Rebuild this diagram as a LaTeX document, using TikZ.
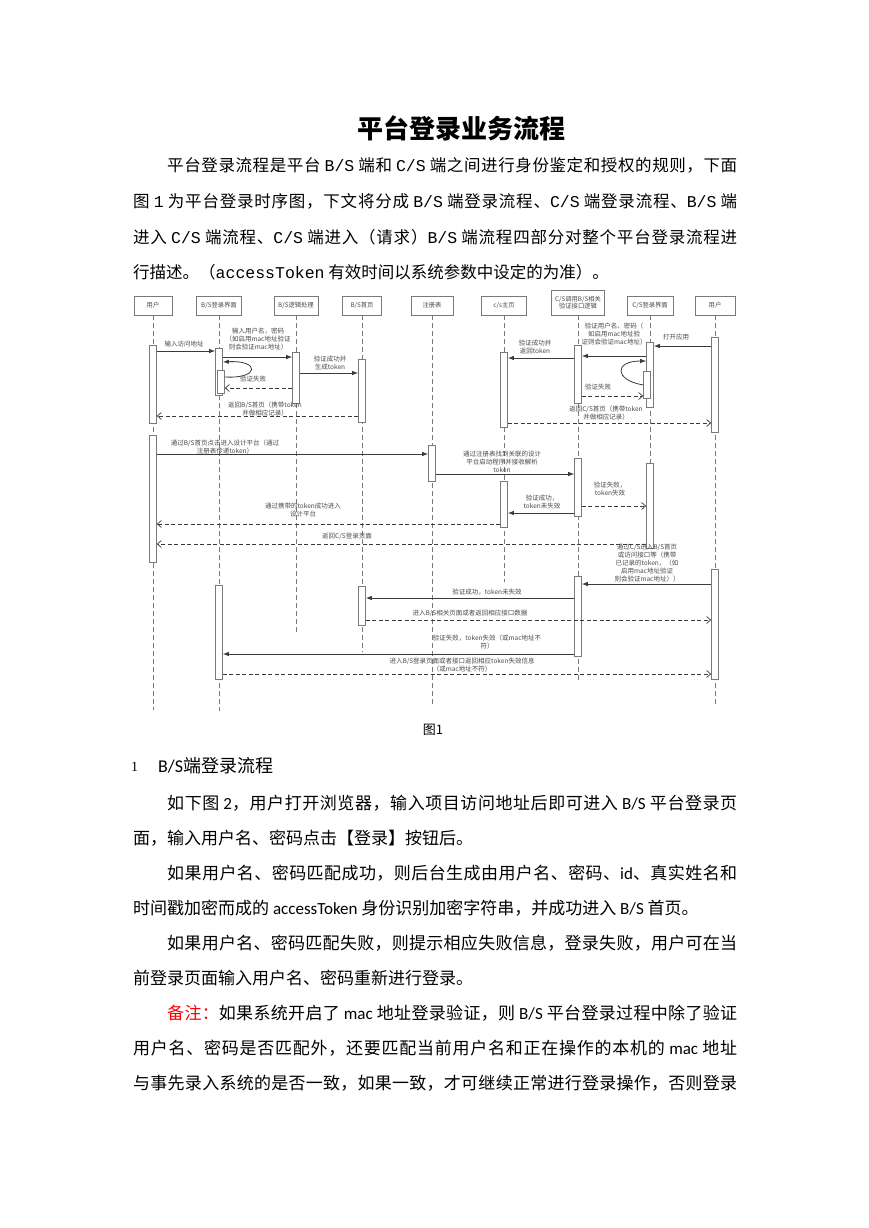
\documentclass[tikz,border=0pt]{standalone}
\usepackage{fontspec}
\setmainfont{Noto Sans CJK SC}
\newfontfamily\monof{Liberation Mono}
\newfontfamily\latf{Carlito}
\newfontfamily\serf{Liberation Serif}
\usepackage{xcolor}
\usepackage{tikz}
\usetikzlibrary{arrows.meta}
\definecolor{SDLine}{HTML}{3A3A3A}
\definecolor{SDGray}{HTML}{7A7A7A}
\definecolor{SDText}{HTML}{4A4A4A}
\definecolor{NoteRed}{HTML}{FF0000}
% stretchable glue between CJK characters, so that full lines can be justified
\newcount\cjkc
\cjkc="4E00
\loop \XeTeXcharclass\cjkc=1 \advance\cjkc by 1 \ifnum\cjkc<"A000 \repeat
\XeTeXcharclass"FF08=2 \XeTeXcharclass"3010=2
\XeTeXcharclass"FF0C=3 \XeTeXcharclass"3001=3 \XeTeXcharclass"3002=3
\XeTeXcharclass"FF09=3 \XeTeXcharclass"3011=3 \XeTeXcharclass"FF1A=3
\XeTeXinterchartokenstate=1
\XeTeXinterchartoks 1 1 = {\hskip 0pt plus 3pt minus 0.5pt\relax}
\XeTeXinterchartoks 1 2 = {\hskip 0pt plus 3pt minus 0.5pt\relax}
\XeTeXinterchartoks 1 3 = {\hskip 0pt plus 3pt minus 0.5pt\relax}
\XeTeXinterchartoks 2 1 = {\hskip 0pt plus 3pt minus 0.5pt\relax}
\XeTeXinterchartoks 3 1 = {\hskip 0pt plus 3pt minus 0.5pt\relax}
\XeTeXinterchartoks 3 2 = {\hskip 0pt plus 3pt minus 0.5pt\relax}
\XeTeXinterchartoks 3 3 = {\hskip 0pt plus 3pt minus 0.5pt\relax}
\newcommand{\Lt}[1]{{\latf #1}}
\newcommand{\Mo}[1]{{\monof #1}}
\newcommand{\fullline}[2]{\parbox{#1}{\parfillskip=0pt #2}}
\tikzset{
  lifehead/.style={draw=SDGray,fill=white,line width=0.6pt,inner sep=1pt,minimum height=19,font=\fontsize{6.3}{7.5}\selectfont,text=SDText,align=center},
  actbar/.style={draw=SDGray,fill=white,line width=0.7pt,inner sep=0pt,minimum width=7},
  lifeline/.style={draw=SDGray,line width=0.6pt,dash pattern=on 5pt off 3pt},
  msg/.style={draw=SDLine,line width=0.8pt,-{Latex[length=6pt,width=4.5pt]}},
  ret/.style={draw=SDLine,line width=0.7pt,dash pattern=on 4pt off 2.5pt,-{Straight Barb[length=4pt,width=7pt]}},
  lbl/.style={font=\fontsize{6.5}{8}\selectfont,text=SDText,align=center,inner sep=0pt},
  bodytext/.style={anchor=west,inner sep=0pt,font=\fontsize{16.5}{20}\selectfont},
  notetext/.style={anchor=west,inner sep=0pt,font=\fontsize{17}{20}\selectfont},
}

\begin{document}
\begin{tikzpicture}[x=1pt,y=-1pt]
\useasboundingbox (0,0) rectangle (869,1228);
\fill[white] (0,0) rectangle (869,1228);

% title and first paragraph
\node[font=\bfseries\fontsize{26}{30}\selectfont] (title) at (461,128) {平台登录业务流程};
\node[bodytext] (p1a) at (167,165) {\fullline{570pt}{平台登录流程是平台 \Mo{B/S} 端和 \Mo{C/S} 端之间进行身份鉴定和授权的规则，下面}};
\node[bodytext] (p1b) at (133,201) {\fullline{604pt}{图 \Mo{1} 为平台登录时序图，下文将分成 \Mo{B/S} 端登录流程、\Mo{C/S} 端登录流程、\Mo{B/S} 端}};
\node[bodytext] (p1c) at (133,237) {\fullline{604pt}{进入 \Mo{C/S} 端流程、\Mo{C/S} 端进入（请求）\Mo{B/S} 端流程四部分对整个平台登录流程进}};
\node[bodytext] (p1d) at (133,272) {行描述。（\Mo{accessToken} 有效时间以系统参数中设定的为准）。};

% lifelines
\node[lifehead,minimum width=38] (userL) at (153,305.5) {用户};
\node[lifehead,minimum width=45] (bsui) at (219,305.5) {B/S登录界面};
\node[lifehead,minimum width=44] (bslogic) at (296,305.5) {B/S逻辑处理};
\node[lifehead,minimum width=39] (bshome) at (362,305.5) {B/S首页};
\node[lifehead,minimum width=42] (reg) at (432,305.5) {注册表};
\node[lifehead,minimum width=45] (cshome) at (504,305.5) {c/s主页};
\node[lifehead,minimum width=53,minimum height=25] (csapi) at (578,302.5) {C/S调用B/S相关\\验证接口逻辑};
\node[lifehead,minimum width=46] (csui) at (650,305.5) {C/S登录界面};
\node[lifehead,minimum width=40] (userR) at (715,305.5) {用户};
\draw[lifeline] (userL) -- (userL.south |- 0,710);
\draw[lifeline] (bsui) -- (bsui.south |- 0,711);
\draw[lifeline] (bslogic) -- (bslogic.south |- 0,633);
\draw[lifeline] (bshome) -- (bshome.south |- 0,652);
\draw[lifeline] (reg) -- (reg.south |- 0,707);
\draw[lifeline] (cshome) -- (cshome.south |- 0,582);
\draw[lifeline] (csapi) -- (csapi.south |- 0,682);
\draw[lifeline] (csui) -- (csui.south |- 0,548);
\draw[lifeline] (userR) -- (userR.south |- 0,705);

% activation bars
\node[actbar,minimum height=78] (userL1) at (153,384) {};
\node[actbar,minimum height=127] (userL2) at (153,498.5) {};
\node[actbar,minimum height=47] (bsui1) at (219,371.5) {};
\node[actbar,minimum height=23] (bsui1s) at (221,381.5) {};
\node[actbar,minimum height=94] (bsui2) at (219,632) {};
\node[actbar,minimum height=51] (bslogic1) at (296,377.5) {};
\node[actbar,minimum height=63] (bshome1) at (362,390.5) {};
\node[actbar,minimum height=39] (bshome2) at (362,605.5) {};
\node[actbar,minimum height=36] (reg1) at (432,463) {};
\node[actbar,minimum height=75] (cshome1) at (504,389.5) {};
\node[actbar,minimum height=46] (cshome2) at (504,504) {};
\node[actbar,minimum height=58] (csapi1) at (578,374) {};
\node[actbar,minimum height=58] (csapi2) at (578,487) {};
\node[actbar,minimum height=80] (csapi3) at (578,616) {};
\node[actbar,minimum height=65] (csui1) at (650,374.5) {};
\node[actbar,minimum height=27] (csui1s) at (647,384.5) {};
\node[actbar,minimum height=85] (csui2) at (650,505.5) {};
\node[actbar,minimum height=95] (userR1) at (715,384.5) {};
\node[actbar,minimum height=110] (userR2) at (715,624) {};

% B/S login
\draw[msg] (userL1.east |- 0,351) -- (bsui1.west |- 0,351);
\node[lbl] (t1) at (184,344) {输入访问地址};
\draw[msg] (bsui1.east |- 0,357) -- (bslogic1.west |- 0,357);
\node[lbl] (t2) at (258,339) {输入用户名，密码\\（如启用mac地址验证\\则会验证mac地址）};
\draw[msg] (bsui1s.east |- 0,377) .. controls (260,379) and (260,360) .. (bsui1.east |- 0,362);
\draw[ret] (bslogic1.west |- 0,388) -- (bsui1s.east |- 0,388);
\node[lbl] (t3) at (253,379) {验证失败};
\draw[msg] (bslogic1.east |- 0,373) -- (bshome1.west |- 0,373);
\node[lbl] (t4) at (330,363) {验证成功并\\生成token};
\draw[ret] (bshome1.west |- 0,416) -- (userL1.east |- 0,416);
\node[lbl] (t5) at (265,409) {返回B/S首页（携带token\\并做相应记录）};

% C/S login
\draw[msg] (userR1.west |- 0,346) -- (csui1.east |- 0,346);
\node[lbl] (t6) at (676,337) {打开应用};
\draw[msg] (csui1.west |- 0,356) -- (csapi1.east |- 0,356);
\node[lbl] (t7) at (614,334) {验证用户名、密码（\\如启用mac地址验\\证则会验证mac地址）};
\draw[msg] (csui1s.west |- 0,385) .. controls (614,380) and (614,361) .. (csui1.west |- 0,361);
\draw[ret] (csapi1.east |- 0,396) -- (csui1s.west |- 0,396);
\node[lbl] (t8) at (598,387) {验证失败};
\draw[msg] (csapi1.west |- 0,358) -- (cshome1.east |- 0,358);
\node[lbl] (t9) at (535,347) {验证成功并\\返回token};
\draw[ret] (cshome1.east |- 0,423) -- (userR1.west |- 0,423);
\node[lbl] (t10) at (606,413) {返回C/S首页（携带token\\并做相应记录）};

% B/S to C/S
\draw[msg] (userL2.east |- 0,454) -- (reg1.west |- 0,454);
\node[lbl] (t11) at (225,447) {通过B/S首页点击进入设计平台（通过\\注册表传递token）};
\draw[msg] (reg1.east |- 0,474) -- (csapi2.west |- 0,474);
\node[lbl] (t12) at (502,462) {通过注册表找到关联的设计\\平台启动程序并接收解析\\token};
\draw[msg] (csapi2.west |- 0,513) -- (cshome2.east |- 0,513);
\node[lbl] (t13) at (542,502) {验证成功，\\token未失效};
\draw[ret] (csapi2.east |- 0,506) -- (csui2.west |- 0,506);
\node[lbl] (t14) at (610,489) {验证失败，\\token失效};
\draw[ret] (cshome2.west |- 0,524) -- (userL2.east |- 0,524);
\node[lbl] (t15) at (303,510) {通过携带的token成功进入\\设计平台};
\draw[ret] (csui2.west |- 0,544) -- (userL2.east |- 0,544);
\node[lbl] (t16) at (347,536) {返回C/S登录页面};

% C/S to B/S
\draw[msg] (userR2.west |- 0,584) -- (csapi3.east |- 0,584);
\node[lbl] (t17) at (647,563) {通过C/S进入B/S首页\\或访问接口等（携带\\已记录的token，（如\\启用mac地址验证\\则会验证mac地址））};
\draw[msg] (csapi3.west |- 0,598) -- (bshome2.east |- 0,598);
\node[lbl] (t18) at (487,592) {验证成功，token未失效};
\draw[ret] (bshome2.east |- 0,620) -- (userR2.west |- 0,620);
\node[lbl] (t19) at (470,613) {进入B/S相关页面或者返回相应接口数据};
\draw[msg] (csapi3.west |- 0,654) -- (bsui2.east |- 0,654);
\node[lbl] (t20) at (487,642) {验证失败，token失效（或mac地址不\\符）};
\draw[ret] (bsui2.east |- 0,674) -- (userR2.west |- 0,674);
\node[lbl] (t21) at (462,665) {进入B/S登录页面或者接口返回相应token失效信息\\（或mac地址不符）};

\node[font=\fontsize{13}{15}\selectfont] (cap) at (433,730) {图1};

% section 1
\node[anchor=west,inner sep=0pt,font=\serf\fontsize{14}{16}\selectfont] (hnum) at (131,767) {1};
\node[anchor=west,inner sep=0pt,font=\fontsize{18}{20}\selectfont] (htext) at (158,766) {\Lt{B/S}端登录流程};
\node[notetext] (s1a) at (167,803) {\fullline{570pt}{如下图 \Lt{2}，用户打开浏览器，输入项目访问地址后即可进入 \Lt{B/S} 平台登录页}};
\node[notetext] (s1b) at (133,838) {面，输入用户名、密码点击【登录】按钮后。};
\node[notetext] (s2a) at (167,873) {\fullline{570pt}{如果用户名、密码匹配成功，则后台生成由用户名、密码、\Lt{id}、真实姓名和}};
\node[notetext] (s2b) at (133,908) {时间戳加密而成的 \Lt{accessToken} 身份识别加密字符串，并成功进入 \Lt{B/S} 首页。};
\node[notetext] (s3a) at (167,943) {\fullline{570pt}{如果用户名、密码匹配失败，则提示相应失败信息，登录失败，用户可在当}};
\node[notetext] (s3b) at (133,978) {前登录页面输入用户名、密码重新进行登录。};
\node[notetext] (s4a) at (167,1013) {\fullline{570pt}{\textcolor{NoteRed}{备注：}如果系统开启了 \Lt{mac} 地址登录验证，则 \Lt{B/S} 平台登录过程中除了验证}};
\node[notetext] (s4b) at (133,1048) {\fullline{604pt}{用户名、密码是否匹配外，还要匹配当前用户名和正在操作的本机的 \Lt{mac} 地址}};
\node[notetext] (s4c) at (133,1083) {\fullline{604pt}{与事先录入系统的是否一致，如果一致，才可继续正常进行登录操作，否则登录}};
\end{tikzpicture}
\end{document}
